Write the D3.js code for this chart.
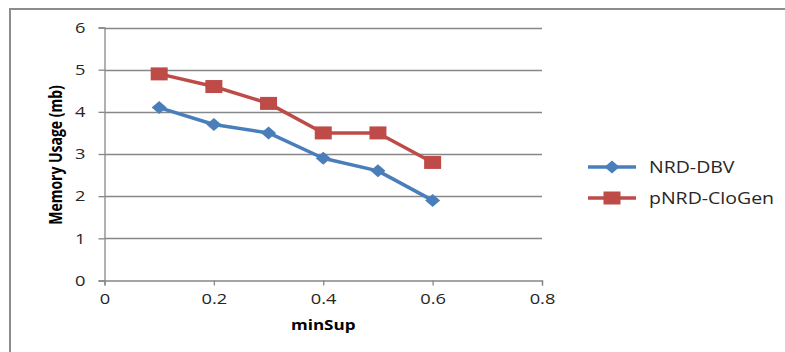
<!DOCTYPE html>
<html>
<head>
<meta charset="utf-8">
<script src="https://cdn.jsdelivr.net/npm/d3@7/dist/d3.min.js"></script>
<style>
  html, body { margin: 0; padding: 0; background: #fff; }
  svg { display: block; }
  .stretch { transform-box: fill-box; transform-origin: center; }
</style>
</head>
<body>
<svg id="chart" width="785" height="352"></svg>
<script>
// Memory usage versus minimum support for the two miners
const minSup = [0.1, 0.2, 0.3, 0.4, 0.5, 0.6];
const nrdDbv = [4.1, 3.7, 3.5, 2.9, 2.6, 1.9];
const pnrdCloGen = [4.9, 4.6, 4.2, 3.5, 3.5, 2.8];
const xTicks = [0, 0.2, 0.4, 0.6, 0.8];
const yTicks = [0, 1, 2, 3, 4, 5, 6];
const seriesNames = ["NRD-DBV", "pNRD-CloGen"];
const seriesColors = ["#4A7EBB", "#BE4B48"];

const svg = d3.select("#chart");
const W = 785, H = 352;
const plot = { left: 104.5, right: 542, top: 27.5, bottom: 280.5 };
const font = "'Open Sans', 'DejaVu Sans', sans-serif";
const gridColor = "#878787";
const STRETCH = 1.22; // glyphs are drawn a bit wider than normal

// outer frame (left and top edges)
svg.append("path")
  .attr("d", `M10,${H} L10,9 L${W},9`)
  .attr("fill", "none")
  .attr("stroke", "#8c8c8c")
  .attr("stroke-width", 2);

const x = d3.scaleLinear().domain([0, 0.8]).range([plot.left, plot.right]);
const y = d3.scaleLinear().domain([0, 6]).range([plot.bottom, plot.top]);

// horizontal gridlines
svg.append("g")
  .selectAll("line")
  .data(yTicks.filter(d => d > 0))
  .join("line")
  .attr("x1", plot.left)
  .attr("x2", plot.right)
  .attr("y1", d => Math.round(y(d)) + 0.5)
  .attr("y2", d => Math.round(y(d)) + 0.5)
  .attr("stroke", gridColor)
  .attr("stroke-width", 1.3);

function styleAxis(g) {
  g.select(".domain").attr("stroke", gridColor).attr("stroke-width", 1.3);
  g.selectAll(".tick line").attr("stroke", gridColor).attr("stroke-width", 1.3);
  g.selectAll(".tick text")
    .attr("font-family", font)
    .attr("font-size", 15)
    .attr("fill", "#262626")
    .attr("class", "stretch")
    .style("transform", `scaleX(${STRETCH})`);
}

// y axis
svg.append("g")
  .attr("transform", `translate(${plot.left},0)`)
  .call(d3.axisLeft(y).tickValues(yTicks).tickSize(6).tickPadding(14).tickFormat(d3.format("d")))
  .call(styleAxis);

// x axis
svg.append("g")
  .attr("transform", `translate(0,${plot.bottom})`)
  .call(d3.axisBottom(x).tickValues(xTicks).tickSize(5).tickPadding(8).tickFormat(d => d === 0 ? "0" : d3.format(".1f")(d)))
  .call(styleAxis);

// axis titles
svg.append("text")
  .attr("transform", `translate(55.5,${(plot.top + plot.bottom) / 2 + 1}) rotate(-90) scale(1,1.3)`)
  .attr("text-anchor", "middle")
  .attr("dy", "0.35em")
  .attr("font-family", font)
  .attr("font-weight", "bold")
  .attr("font-size", 14)
  .attr("fill", "#000")
  .text("Memory Usage (mb)");

svg.append("text")
  .attr("x", x(0.4))
  .attr("y", 325)
  .attr("dy", "0.35em")
  .attr("text-anchor", "middle")
  .attr("font-family", font)
  .attr("font-weight", "bold")
  .attr("font-size", 14)
  .attr("fill", "#000")
  .attr("class", "stretch")
  .style("transform", `scaleX(${STRETCH})`)
  .text("minSup");

const series = [nrdDbv, pnrdCloGen];
const line = d3.line().x((d, i) => x(minSup[i])).y(d => y(d));

// marker shapes: a diamond for the first series, a square for the second
function marker(sel, k) {
  if (k === 0) {
    sel.append("path")
      .attr("d", "M0,-6.5 L7.5,0 L0,6.5 L-7.5,0 Z")
      .attr("fill", seriesColors[k]);
  } else {
    sel.append("rect")
      .attr("x", -8.5).attr("y", -6.5)
      .attr("width", 17).attr("height", 13)
      .attr("fill", seriesColors[k]);
  }
}

series.forEach((vals, k) => {
  const g = svg.append("g");
  g.append("path")
    .datum(vals)
    .attr("d", line)
    .attr("fill", "none")
    .attr("stroke", seriesColors[k])
    .attr("stroke-width", 3.5)
    .attr("stroke-linejoin", "round");
  g.selectAll("g.pt")
    .data(vals)
    .join("g")
    .attr("class", "pt")
    .attr("transform", (d, i) => `translate(${x(minSup[i])},${y(d)})`)
    .each(function () { marker(d3.select(this), k); });
});

// legend
const legend = svg.append("g");
seriesNames.forEach((name, k) => {
  const ly = 167 + k * 31;
  legend.append("line")
    .attr("x1", 588).attr("x2", 636)
    .attr("y1", ly).attr("y2", ly)
    .attr("stroke", seriesColors[k])
    .attr("stroke-width", 3.5);
  const m = legend.append("g").attr("transform", `translate(612,${ly})`);
  marker(m, k);
  legend.append("text")
    .attr("x", 649)
    .attr("y", ly)
    .attr("dy", "0.35em")
    .attr("font-family", font)
    .attr("font-size", 16)
    .attr("fill", "#262626")
    .style("transform", `scaleX(${STRETCH})`)
    .style("transform-origin", `649px ${ly}px`)
    .text(name);
});
</script>
</body>
</html>
